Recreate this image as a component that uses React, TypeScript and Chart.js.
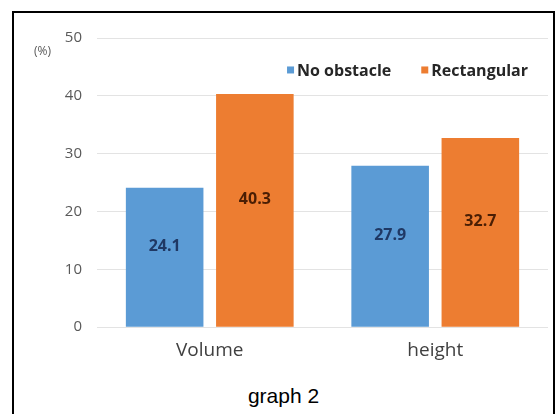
import React, { useEffect, useRef } from "react";
import { Chart, registerables } from "chart.js";

Chart.register(...registerables);

const categories = ["Volume", "height"];
const seriesNames = ["No obstacle", "Rectangular"];
const noObstacle = [24.1, 27.9];
const rectangular = [40.3, 32.7];
const yTicks = [0, 10, 20, 30, 40, 50];

const BLUE = "#5b9bd5";
const ORANGE = "#ed7d31";
const LABEL_COLORS = ["#1f3864", "#4a1e04"];

const overlayPlugin = {
  id: "overlay",
  afterDatasetsDraw(chart: any) {
    const ctx = chart.ctx;
    const area = chart.chartArea;
    const yScale = chart.scales.y;
    ctx.save();
    // value labels
    ctx.font = "bold 16px 'Open Sans', sans-serif";
    ctx.textAlign = "center";
    ctx.textBaseline = "middle";
    chart.data.datasets.forEach((ds: any, di: number) => {
      const meta = chart.getDatasetMeta(di);
      meta.data.forEach((bar: any, i: number) => {
        const v = ds.data[i];
        const y = yScale.getPixelForValue(v / 2) - 11;
        ctx.fillStyle = LABEL_COLORS[di];
        ctx.fillText(v.toFixed(1), bar.x, y);
      });
    });
    // legend
    ctx.font = "bold 16px 'Open Sans', sans-serif";
    ctx.textAlign = "left";
    const box = 7;
    const gapBox = 3;
    const gapItem = 30;
    const widths = chart.data.datasets.map((ds: any) => ctx.measureText(ds.label).width);
    let total = 0;
    widths.forEach((w: number, i: number) => {
      total += box + gapBox + w + (i < widths.length - 1 ? gapItem : 0);
    });
    let x = area.right - 20 - total;
    const ly = yScale.getPixelForValue(44.3);
    chart.data.datasets.forEach((ds: any, i: number) => {
      ctx.fillStyle = ds.backgroundColor;
      ctx.fillRect(x, ly - box / 2 - 1, box, box);
      x += box + gapBox;
      ctx.fillStyle = "#262626";
      ctx.fillText(ds.label, x, ly);
      x += widths[i] + gapItem;
    });
    // unit label
    ctx.font = "12px 'Open Sans', sans-serif";
    ctx.fillStyle = "#595959";
    ctx.textAlign = "left";
    ctx.fillText("(%)", area.left - 63, yScale.getPixelForValue(50) + 14);
    ctx.restore();
  },
};

export default function App() {
  const ref = useRef<HTMLCanvasElement>(null);
  useEffect(() => {
    if (!ref.current) return;
    const chart = new Chart(ref.current, {
      type: "bar",
      data: {
        labels: categories,
        datasets: [
          { label: seriesNames[0], data: noObstacle, backgroundColor: BLUE },
          { label: seriesNames[1], data: rectangular, backgroundColor: ORANGE },
        ],
      },
      options: {
        responsive: false,
        animation: false,
        devicePixelRatio: 1,
        layout: { padding: { top: 22, right: 6, bottom: 0, left: 0 } },
        datasets: { bar: { categoryPercentage: 0.8, barPercentage: 0.86 } },
        plugins: { legend: { display: false }, tooltip: { enabled: false } },
        scales: {
          x: {
            grid: { display: false, drawTicks: false },
            border: { display: false },
            ticks: {
              color: "#404040",
              font: { family: "'Open Sans', sans-serif", size: 19 },
              padding: 12,
            },
          },
          y: {
            min: 0,
            max: 50,
            afterBuildTicks: (s: any) => {
              s.ticks = yTicks.map((v) => ({ value: v }));
            },
            afterFit: (s: any) => {
              s.width = 83;
            },
            grid: { color: "#e3e3e3", drawTicks: false },
            border: { display: false },
            ticks: {
              color: "#595959",
              font: { family: "'Open Sans', sans-serif", size: 15 },
              padding: 15,
            },
          },
        },
      },
      plugins: [overlayPlugin],
    });
    return () => chart.destroy();
  }, []);
  return (
    <div>
      <div
        style={{
          position: "absolute",
          left: 12,
          top: 11,
          width: 543,
          height: 420,
          border: "2px solid #000",
          boxSizing: "border-box",
        }}
      />
      <canvas
        ref={ref}
        width={540}
        height={360}
        style={{ position: "absolute", left: 14, top: 14, width: 540, height: 360 }}
      />
      <div
        style={{
          position: "absolute",
          left: 12,
          top: 384,
          width: 543,
          textAlign: "center",
          fontFamily: "'Liberation Sans', Arial, sans-serif",
          fontSize: 21,
          color: "#000",
        }}
      >
        graph 2
      </div>
    </div>
  );
}
